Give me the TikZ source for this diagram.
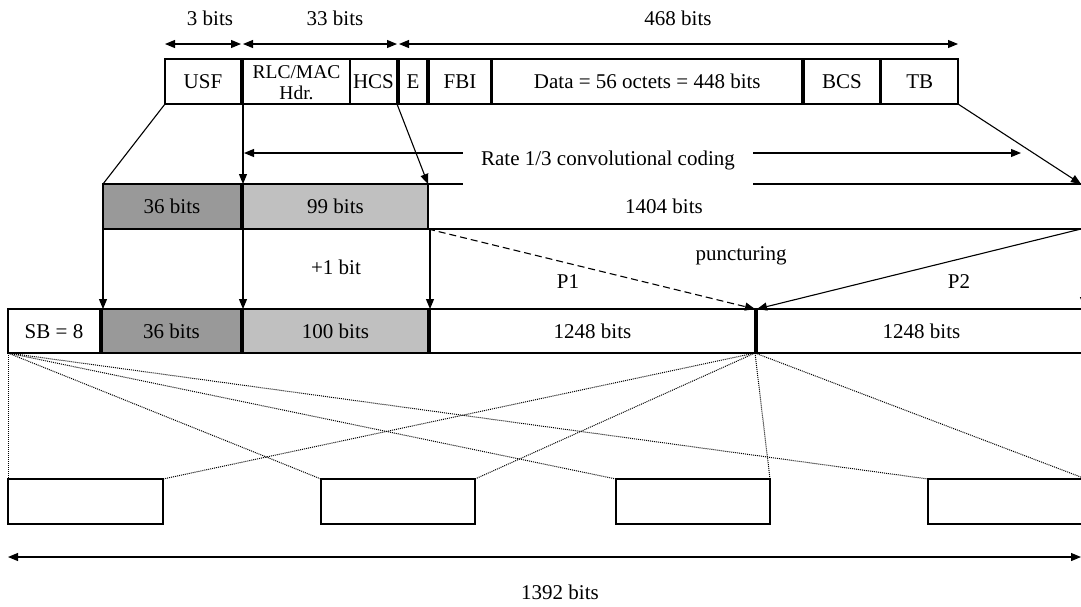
\documentclass[tikz,border=0pt]{standalone}
\usepackage{fontspec}
\setmainfont{Liberation Serif}
\usetikzlibrary{arrows.meta,calc}
\definecolor{dk}{RGB}{153,153,153}
\definecolor{lt}{RGB}{192,192,192}
\newcommand\mainfs{\fontsize{21}{24}\selectfont}
\newcommand\rlcfs{\fontsize{19.5}{21}\selectfont}
\begin{document}
\begin{tikzpicture}[x=1pt,y=-1pt,
  box/.style={draw, line width=1.2pt, inner sep=0pt, outer sep=0pt, text height=14pt, text depth=0pt, font=\mainfs},
  row1/.style={box, minimum height=45pt},
  row2/.style={box, minimum height=45pt},
  row3/.style={box, minimum height=44pt},
  row4/.style={box, minimum height=45pt},
  lbl/.style={inner sep=0pt, anchor=base, font=\mainfs},
  tip/.style={-{Triangle[length=10pt,width=8pt]}, line width=1.1pt},
  dim/.style={{Triangle[length=10pt,width=8pt]}-{Triangle[length=10pt,width=8pt]}, line width=1.1pt},
  plain/.style={line width=1.1pt},
  dash7/.style={tip, dash pattern=on 7pt off 4pt},
  dots/.style={line width=1pt, dash pattern=on 1pt off 1pt}]
\useasboundingbox (0,0) rectangle (1081,606);

% top row
\node[row1, minimum width=76pt] (usf) at (203,81.5) {USF};
\node[row1, minimum width=107pt, align=center, text height=35pt, text depth=0pt, font=\rlcfs] (rlc) at (296.5,81.5) {RLC/MAC\\Hdr.};
\node[row1, minimum width=47pt] (hcs) at (373.5,81.5) {HCS};
\node[row1, minimum width=28pt] (e) at (413,81.5) {E};
\node[row1, minimum width=62pt] (fbi) at (460,81.5) {FBI};
\node[row1, minimum width=309.5pt] (data) at (647.25,81.5) {Data = 56 octets = 448 bits};
\node[row1, minimum width=76pt] (bcs) at (842,81.5) {BCS};
\node[row1, minimum width=76.5pt] (tb) at (919.75,81.5) {TB};

% dimension arrows on top
\coordinate (dimy) at (0,44);
\draw[dim] (usf.north west |- dimy) -- (usf.north east |- dimy);
\draw[dim] (rlc.north west |- dimy) -- (hcs.north east |- dimy);
\draw[dim] (e.north west |- dimy) -- (tb.north east |- dimy);
\node[lbl] (l3) at (210,25) {3 bits};
\node[lbl] (l33) at (335,25) {33 bits};
\node[lbl] (l468) at (678,25) {468 bits};

% second row
\node[row2, fill=dk, minimum width=138pt] (c36) at (172,206.5) {36 bits};
\node[row2, fill=lt, minimum width=185pt] (c99) at (335.5,206.5) {99 bits};
\node[row2, minimum width=658pt] (c1404) at (757,206.5) {};
\node[lbl] (l1404) at (664,213) {1404 bits};

% connectors top -> second row
\coordinate (tbend) at (1081,184);
\draw[plain] (usf.south west) -- (c36.north west);
\draw[tip] (rlc.south west) -- (c99.north west);
\draw[tip] (hcs.south east) -- (c99.north east);
\draw[tip] (tb.south east) -- (tbend);

% rate arrow and label
\coordinate (rateR) at (1021,153);
\draw[dim, shorten <=1pt] (rlc.south west |- rateR) -- (rateR);
\node[lbl, fill=white, text height=20pt, text depth=22pt, inner xsep=18pt] (rate) at (608,165) {Rate 1/3 convolutional coding};

% third row
\node[row3, minimum width=92pt] (sb) at (54,331) {SB = 8};
\node[row3, fill=dk, minimum width=139pt] (d36) at (171.5,331) {36 bits};
\node[row3, fill=lt, minimum width=185pt] (d100) at (335.5,331) {100 bits};
\node[row3, minimum width=325pt] (p1) at (592.5,331) {1248 bits};
\node[row3, minimum width=329pt] (p2) at (921.5,331) {1248 bits};

% second -> third row
\draw[tip] (c36.south west) -- (c36.south west |- d36.north);
\draw[tip] (c99.south west) -- (c99.south west |- d100.north);
\draw[tip] (p1.north west |- c99.south) -- (p1.north west);
\node[lbl] (plus) at (336,274) {+1 bit};

% puncturing
\coordinate (c1404br) at (1081,229);
\draw[dash7] (c99.south east) -- (p1.north east);
\draw[tip] (c1404br) -- (p2.north west);
\coordinate (edgeA) at (1084,240);
\coordinate (edgeB) at (1084,307);
\draw[tip] (edgeA) -- (edgeB);
\node[lbl] (punct) at (741,260) {puncturing};
\node[lbl] (lp1) at (568,288) {P1};
\node[lbl] (lp2) at (959,288) {P2};

% bottom boxes
\node[row4, minimum width=155pt] (b1) at (85.5,501.5) {};
\node[row4, minimum width=154pt] (b2) at (398,501.5) {};
\node[row4, minimum width=154pt] (b3) at (693,501.5) {};
\node[row4, minimum width=158pt] (b4) at (1007,501.5) {};

% dotted mapping lines
\foreach \b in {b1,b2,b3,b4} \draw[dots] (sb.south west) -- (\b.north west);
\foreach \b in {b1,b2,b3,b4} \draw[dots] (p1.south east) -- (\b.north east);

% bottom dimension
\coordinate (botR) at (1081,557);
\draw[dim] (b1.west |- botR) -- (botR);
\node[lbl] (l1392) at (560,599) {1392 bits};
\end{tikzpicture}
\end{document}
